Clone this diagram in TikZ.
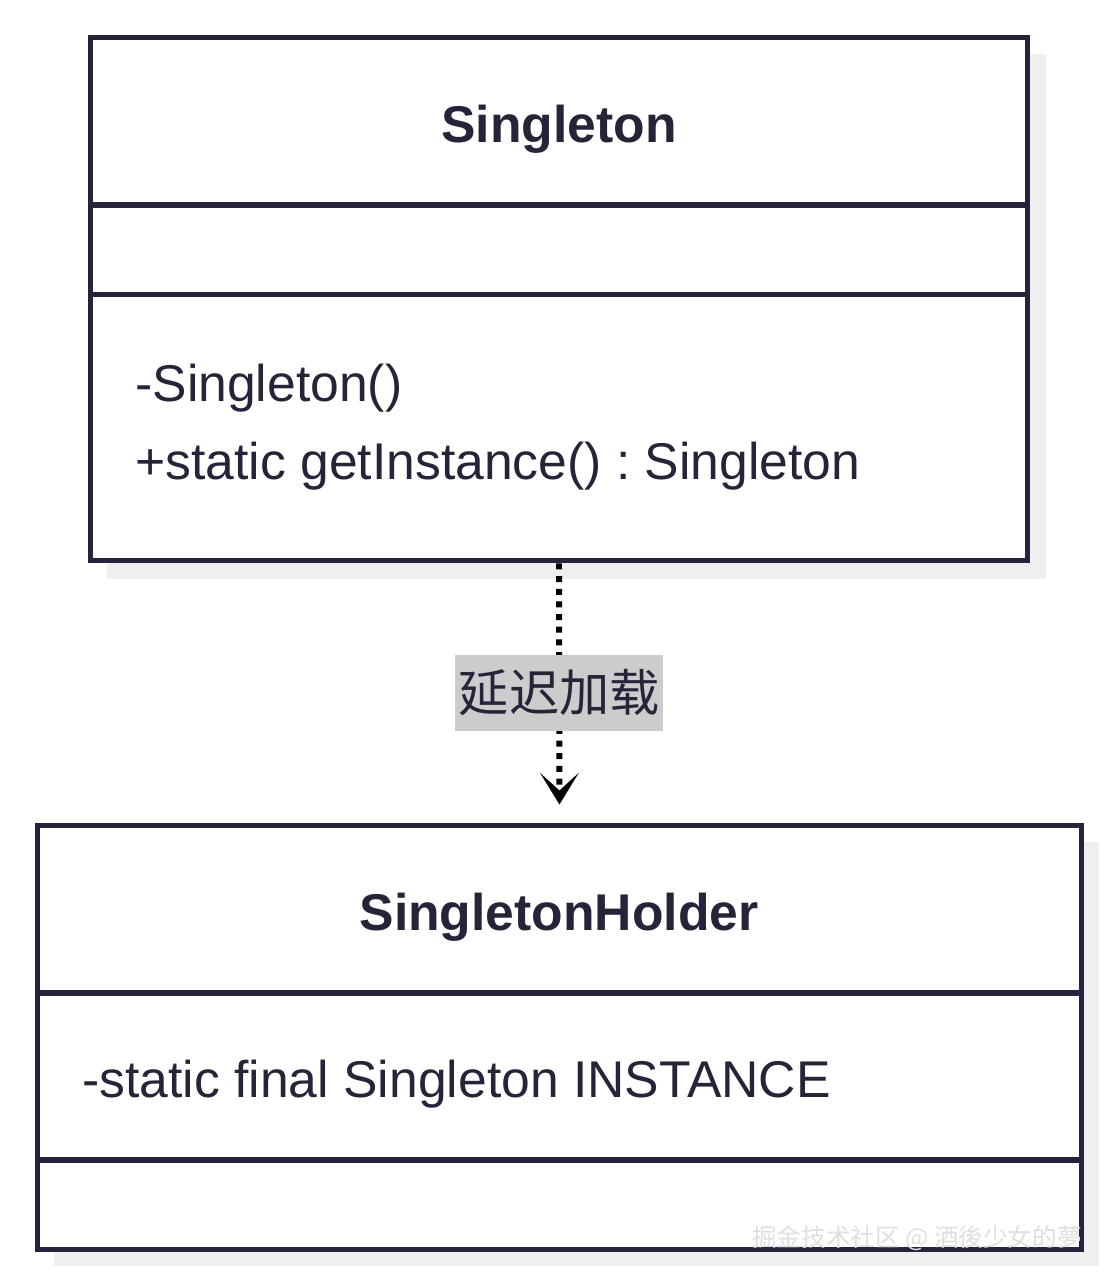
\documentclass[tikz,border=0pt]{standalone}
\usepackage{fontspec}
\setmainfont{Liberation Sans}
\newfontfamily\cjk{Noto Sans CJK SC}
\usetikzlibrary{arrows.meta}
\frenchspacing
\definecolor{umlline}{HTML}{26243D}
\definecolor{umltext}{HTML}{262438}
\definecolor{shadowc}{HTML}{EFEFEF}
\definecolor{labelbg}{HTML}{CCCCCC}
\begin{document}
\begin{tikzpicture}[x=0.02cm, y=-0.02cm,
    every node/.style={text=umltext, font=\fontsize{29.4}{34}\selectfont},
    part/.style={draw=umlline, line width=0.1cm, fill=white, inner sep=0pt},
    title/.style={font=\fontsize{29.4}{34}\selectfont\bfseries},
    member/.style={anchor=west, inner sep=0pt},
    lazy/.style={fill=labelbg, inner xsep=2pt, minimum height=1.52cm,
                 font=\fontsize{28.6}{32}\selectfont\cjk}]
  \useasboundingbox (0,0) rectangle (1118,1286);
  % shadows
  \fill[shadowc] (107,54) rectangle (1046,579);
  \fill[shadowc] (54,842) rectangle (1099,1266);
  % Singleton
  \node[part, minimum width=18.76cm, minimum height=3.36cm] (stitle) at (559,121) {};
  \node[part, minimum width=18.76cm, minimum height=1.78cm] (sattr) at (559,249.5) {};
  \node[part, minimum width=18.76cm, minimum height=5.34cm] (smeth) at (559,427.5) {};
  \node[title] (sname) at (559,129) {Singleton};
  \node[member] (m1) at (135,388) {-Singleton()};
  \node[member] (m2) at (135,466) {+static getInstance() : Singleton};
  % SingletonHolder
  \node[part, minimum width=20.9cm, minimum height=3.36cm] (htitle) at (559.5,909) {};
  \node[part, minimum width=20.9cm, minimum height=3.34cm] (hattr) at (559.5,1076.5) {};
  \node[part, minimum width=20.9cm, minimum height=1.78cm] (hmeth) at (559.5,1204.5) {};
  \node[title] (hname) at (559,917) {SingletonHolder};
  \node[member] (a1) at (82,1084) {-static final Singleton INSTANCE};
  % dependency
  \draw[black, line width=3.4pt, dash pattern=on 3.4pt off 3.8pt, shorten >=0.36cm,
        -{Stealth[length=18pt, width=22pt, inset=10pt]}]
    (smeth.south) -- node[lazy] (load) {延迟加载} (htitle.north);
  % watermark
  \node[text=white!75!gray, font=\fontsize{14}{16}\selectfont\cjk] (mark) at (917,1238)
    {掘金技术社区 @ 酒後少女的夢};
\end{tikzpicture}
\end{document}
